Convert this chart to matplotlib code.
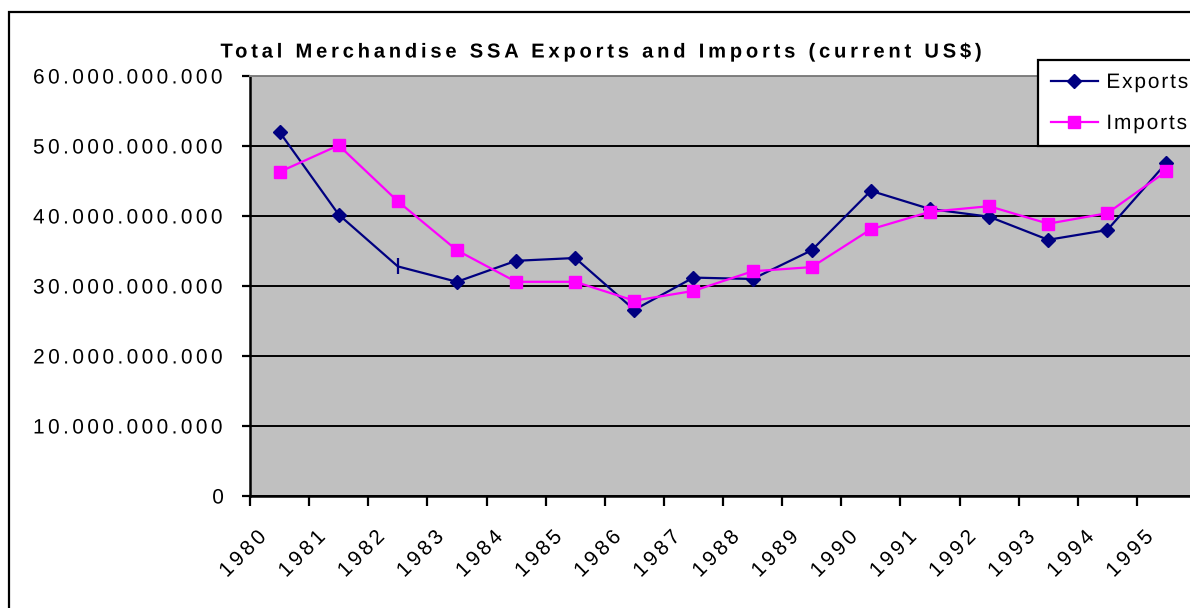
import numpy as np
import matplotlib
matplotlib.use("Agg")
import matplotlib.pyplot as plt
from matplotlib.transforms import ScaledTranslation
from matplotlib.patches import Rectangle
from matplotlib.patheffects import AbstractPathEffect
from matplotlib.path import Path
from matplotlib.textpath import text_to_path

plt.rcParams['font.family'] = ['Liberation Sans', 'DejaVu Sans']

# dados (US$ correntes)
anos = ['1980', '1981', '1982', '1983', '1984', '1985', '1986', '1987',
        '1988', '1989', '1990', '1991', '1992', '1993', '1994', '1995']
exports = [52.0e9, 40.2e9, 32.8e9, 30.6e9, 33.6e9, 34.0e9, 26.6e9, 31.2e9,
           31.0e9, 35.1e9, 43.6e9, 41.0e9, 39.9e9, 36.6e9, 38.0e9, 47.6e9]
imports = [46.3e9, 50.1e9, 42.1e9, 35.1e9, 30.6e9, 30.6e9, 27.9e9, 29.3e9,
           32.1e9, 32.7e9, 38.1e9, 40.6e9, 41.4e9, 38.9e9, 40.4e9, 46.4e9]
y_ticks = [0, 10e9, 20e9, 30e9, 40e9, 50e9, 60e9]


class Espacamento(AbstractPathEffect):
    """Espaçamento entre letras (o texto do Excel vem bem espaçado)."""

    def __init__(self, texto, prop, px, alinhamento='left'):
        super().__init__()
        self.px = px
        self.alinhamento = alinhamento
        fonte = text_to_path._get_font(prop)
        info, _, _ = text_to_path.get_glyphs_with_font(fonte, texto)
        self.xs = np.array([g[1] for g in info], dtype=float)

    def draw_path(self, renderer, gc, tpath, affine, rgbFace=None):
        m = affine.get_matrix()
        escala = np.sqrt(abs(m[0, 0] * m[1, 1] - m[0, 1] * m[1, 0]))
        sp = self.px / escala
        verts = np.array(tpath.vertices, dtype=float)
        codes = tpath.codes
        if codes is not None and len(verts) and len(self.xs):
            contorno = np.cumsum(codes == Path.MOVETO) - 1
            validos = codes != Path.CLOSEPOLY
            desloc = np.zeros(len(verts))
            for c in np.unique(contorno):
                sel = contorno == c
                xs = verts[sel & validos, 0]
                if len(xs) == 0:
                    continue
                centro = (xs.min() + xs.max()) / 2
                k = max(np.searchsorted(self.xs, centro, side='right') - 1, 0)
                desloc[sel] = k * sp
            total = (len(self.xs) - 1) * sp
            if self.alinhamento == 'center':
                desloc -= total / 2
            elif self.alinhamento == 'right':
                desloc -= total
            verts[:, 0] += desloc
        renderer.draw_path(gc, Path(verts, codes), affine, rgbFace)


def espacar(txt, largura_alvo, renderer, alinhamento):
    s = txt.get_text()
    w = txt.get_window_extent(renderer).width
    sp = (largura_alvo - w) / max(len(s) - 1, 1)
    txt.set_path_effects([Espacamento(s, txt.get_fontproperties(), sp, alinhamento)])
    return sp


W, H = 1190, 608
FS = 15
fig = plt.figure(figsize=(W / 100, H / 100), dpi=100)
renderer = fig.canvas.get_renderer()

# borda externa do gráfico (estilo Excel)
fig.patches.append(Rectangle((9 / W, -0.1), 1.2, 1 - 12 / H + 0.1, transform=fig.transFigure,
                             fill=False, edgecolor='black', linewidth=1.6))

ax = fig.add_axes([250 / W, (H - 496) / H, 946 / W, 420 / H])
ax.set_facecolor('#C0C0C0')

x = np.arange(len(anos))
ax.plot(x, exports, color='#000080', linewidth=1.6, marker='D', markersize=7,
        markevery=[i for i in range(len(x)) if i != 2], zorder=3)
ax.plot(x[2], exports[2], color='#000080', marker='|', markersize=12,
        markeredgewidth=1.6, linestyle='none', zorder=3)
ax.plot(x, imports, color='#FF00FF', linewidth=1.6, marker='s', markersize=9, zorder=4)

# legenda (proxies) - a caixa passa da borda direita, como no original
h1, = ax.plot([], [], color='#000080', linewidth=1.6, marker='D', markersize=7)
h2, = ax.plot([], [], color='#FF00FF', linewidth=1.6, marker='s', markersize=9)
leg = ax.legend([h1, h2], ['Exports', 'Imports'], loc='upper left', mode='expand',
                bbox_to_anchor=(1038 / W, 1 - 143 / H, 175 / W, 83 / H),
                bbox_transform=fig.transFigure,
                fontsize=FS, frameon=True, fancybox=False, framealpha=1,
                edgecolor='black', handlelength=2.26, handletextpad=0.4,
                labelspacing=1.06, borderpad=0.62, borderaxespad=0)
leg.get_frame().set_linewidth(1.6)

ax.set_xlim(-0.5, len(anos) - 0.5)
ax.set_ylim(0, 60e9)
ax.set_yticks(y_ticks, labels=[f'{v:,.0f}'.replace(',', '.') for v in y_ticks], fontsize=FS)
ax.grid(axis='y', color='black', linewidth=1.4)
ax.set_axisbelow(True)

# ticks nas fronteiras, rótulos no centro das categorias
ax.set_xticks(np.arange(-0.5, len(anos), 1.0))
ax.set_xticklabels([])
ax.set_xticks(x, minor=True)
ax.set_xticklabels(anos, minor=True, rotation=45, ha='right', va='top',
                   rotation_mode='anchor', fontsize=FS)
ax.tick_params(axis='x', which='minor', length=0, pad=22.5)
ax.tick_params(axis='x', which='major', length=7.2, width=1.6, direction='out')
ax.tick_params(axis='y', length=6, width=1.6, direction='out', pad=12.7)
offset = ScaledTranslation(-23 / 100, 0, fig.dpi_scale_trans)
for lbl in ax.get_xticklabels(minor=True):
    lbl.set_transform(lbl.get_transform() + offset)

ax.spines['left'].set_linewidth(1.8)
ax.spines['bottom'].set_linewidth(1.8)
ax.spines['top'].set_color('#808080')
ax.spines['top'].set_linewidth(1.4)
ax.spines['right'].set_color('#808080')

titulo = fig.text(601 / W, 1 - 57.5 / H, 'Total Merchandise SSA Exports and Imports (current US$)',
                  ha='center', va='baseline', fontsize=14.5, fontweight='bold')

# espaçamento entre letras como no original
espacar(titulo, 761, renderer, 'center')
ylabels = ax.get_yticklabels()
sp_tick = espacar(ylabels[-1], 191, renderer, 'right')
for lbl in ylabels[:-1]:
    lbl.set_path_effects([Espacamento(lbl.get_text(), lbl.get_fontproperties(), sp_tick, 'right')])
for lbl in ax.get_xticklabels(minor=True):
    lbl.set_path_effects([Espacamento(lbl.get_text(), lbl.get_fontproperties(), sp_tick, 'right')])
ltexts = leg.get_texts()
sp_leg = espacar(ltexts[0], 82, renderer, 'left')
ltexts[1].set_path_effects([Espacamento(ltexts[1].get_text(), ltexts[1].get_fontproperties(), sp_leg, 'left')])

fig.savefig('out.png', dpi=100)
